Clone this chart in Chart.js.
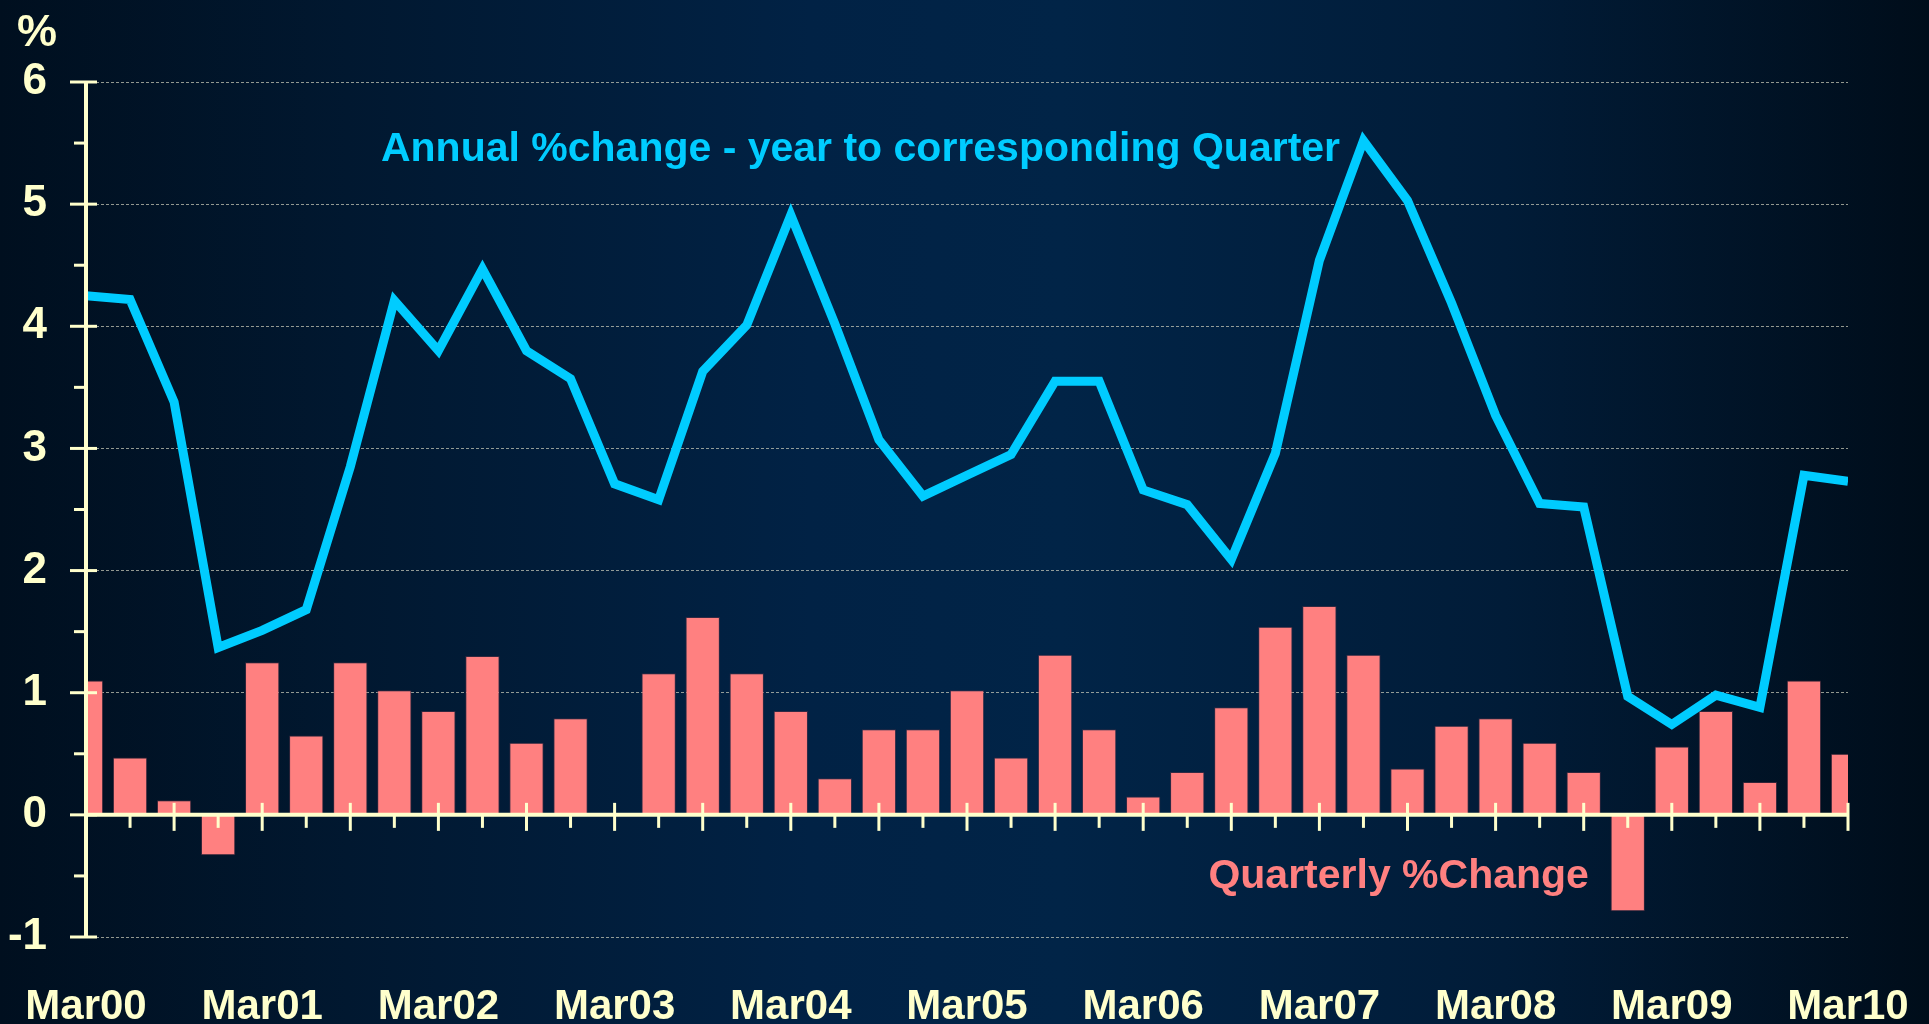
<!DOCTYPE html>
<html>
<head>
<meta charset="utf-8">
<title>Annual and quarterly % change</title>
<script src="https://cdn.jsdelivr.net/npm/chart.js@4.4.1/dist/chart.umd.min.js"></script>
<style>
    html, body { margin: 0; padding: 0; }
    body {
        width: 1929px;
        height: 1024px;
        overflow: hidden;
        background: linear-gradient(to right, #000f1f 0%, #011830 18%, #012245 42%, #012447 55%, #011c38 78%, #000d1a 100%);
    }
    canvas { display: block; }
</style>
</head>
<body>
<canvas id="chart" width="1929" height="1024"></canvas>
<script>
const quarters = [
    'Mar00', 'Jun00', 'Sep00', 'Dec00',
    'Mar01', 'Jun01', 'Sep01', 'Dec01',
    'Mar02', 'Jun02', 'Sep02', 'Dec02',
    'Mar03', 'Jun03', 'Sep03', 'Dec03',
    'Mar04', 'Jun04', 'Sep04', 'Dec04',
    'Mar05', 'Jun05', 'Sep05', 'Dec05',
    'Mar06', 'Jun06', 'Sep06', 'Dec06',
    'Mar07', 'Jun07', 'Sep07', 'Dec07',
    'Mar08', 'Jun08', 'Sep08', 'Dec08',
    'Mar09', 'Jun09', 'Sep09', 'Dec09',
    'Mar10',
];

// annual % change, year to corresponding quarter
const annualChange = [
    4.25, 4.22, 3.38, 1.37, 1.51, 1.68, 2.85, 4.21, 3.80, 4.47,
    3.80, 3.57, 2.71, 2.58, 3.63, 4.01, 4.91, 4.02, 3.07, 2.61,
    2.78, 2.95, 3.55, 3.55, 2.66, 2.54, 2.09, 2.96, 4.54, 5.52,
    5.03, 4.19, 3.27, 2.55, 2.52, 0.97, 0.74, 0.98, 0.88, 2.78,
    2.73,
];

// quarterly % change
const quarterlyChange = [
    1.10, 0.47, 0.12, -0.33, 1.25, 0.65, 1.25, 1.02, 0.85, 1.30,
    0.59, 0.79, 0.00, 1.16, 1.62, 1.16, 0.85, 0.30, 0.70, 0.70,
    1.02, 0.47, 1.31, 0.70, 0.15, 0.35, 0.88, 1.54, 1.71, 1.31,
    0.38, 0.73, 0.79, 0.59, 0.35, -0.79, 0.56, 0.85, 0.27, 1.10,
    0.50,
];

const yMin = -1;
const yMax = 6;

const palette = {
    cream: '#FFFFCC',
    cyan: '#00CCFF',
    salmon: '#FF8080',
    grid: 'rgba(210, 210, 190, 0.7)',
};

const fontFamily = '"Liberation Sans", Arial, Helvetica, sans-serif';

// axis lines at zero / left edge, tick marks and the two series captions
const axesPlugin = {
    id: 'axesOverlay',
    afterDatasetsDraw(chart) {
        const { ctx, chartArea, scales } = chart;
        const x = scales.x;
        const y = scales.y;
        const left = chartArea.left;
        const zero = y.getPixelForValue(0);

        const line = (x1, y1, x2, y2) => {
            ctx.beginPath();
            ctx.moveTo(x1, y1);
            ctx.lineTo(x2, y2);
            ctx.stroke();
        };

        ctx.save();
        ctx.strokeStyle = palette.cream;
        ctx.lineCap = 'butt';

        ctx.lineWidth = 4;
        line(left, chartArea.top, left, chartArea.bottom);
        line(left, zero, chartArea.right, zero);

        ctx.lineWidth = 3;
        for (let v = yMin; v <= yMax; v += 0.5) {
            const py = y.getPixelForValue(v);
            if (Number.isInteger(v)) {
                line(left - 16, py, left + 11, py);
            } else {
                line(left - 12, py, left, py);
            }
        }

        quarters.forEach((_, i) => {
            const px = x.getPixelForValue(i);
            if (i % 2 === 0) {
                line(px, zero - 12, px, zero + 16);
            } else {
                line(px, zero, px, zero + 13);
            }
        });

        const width = chartArea.right - chartArea.left;
        ctx.textBaseline = 'alphabetic';
        ctx.textAlign = 'left';

        ctx.font = `bold 41px ${fontFamily}`;
        ctx.fillStyle = palette.cyan;
        ctx.fillText('Annual %change - year to corresponding Quarter', left + width * 0.1674, y.getPixelForValue(5.35));

        ctx.fillStyle = palette.salmon;
        ctx.fillText('Quarterly %Change', left + width * 0.637, y.getPixelForValue(-0.6));

        ctx.font = `bold 45px ${fontFamily}`;
        ctx.fillStyle = palette.cream;
        ctx.fillText('%', 17, 46);

        ctx.restore();
    },
};

new Chart(document.getElementById('chart'), {
    type: 'bar',
    data: {
        labels: quarters,
        datasets: [
            {
                type: 'line',
                label: 'Annual % change',
                data: annualChange,
                borderColor: palette.cyan,
                borderWidth: 9,
                borderJoinStyle: 'miter',
                borderCapStyle: 'butt',
                pointRadius: 0,
                tension: 0,
                fill: false,
                clip: 0,
                order: 0,
            },
            {
                type: 'bar',
                label: 'Quarterly % change',
                data: quarterlyChange,
                backgroundColor: palette.salmon,
                borderColor: 'rgba(90, 50, 70, 0.55)',
                borderWidth: 1,
                barPercentage: 1,
                categoryPercentage: 0.78,
                clip: 0,
                order: 1,
            },
        ],
    },
    options: {
        responsive: false,
        devicePixelRatio: 1,
        animation: false,
        layout: {
            padding: { top: 82, right: 81, bottom: 0, left: 0 },
        },
        plugins: {
            legend: { display: false },
            tooltip: { enabled: false },
            title: { display: false },
        },
        scales: {
            x: {
                offset: false,
                // invisible tick marks only push the labels down
                grid: {
                    display: true,
                    drawOnChartArea: false,
                    drawTicks: true,
                    tickLength: 42,
                    tickColor: 'rgba(0, 0, 0, 0)',
                },
                border: { display: false },
                afterFit(scale) {
                    scale.height = 87;
                },
                ticks: {
                    autoSkip: false,
                    maxRotation: 0,
                    minRotation: 0,
                    padding: 3,
                    color: palette.cream,
                    font: { family: fontFamily, size: 42, weight: 'bold' },
                    callback: (value, index) => (index % 4 === 0 ? quarters[index] : ''),
                },
            },
            y: {
                min: yMin,
                max: yMax,
                afterFit(scale) {
                    scale.width = 86;
                },
                grid: {
                    color: palette.grid,
                    lineWidth: 1,
                    drawTicks: false,
                },
                border: { display: false, dash: [3, 2] },
                ticks: {
                    stepSize: 1,
                    padding: 39,
                    color: palette.cream,
                    font: { family: fontFamily, size: 44, weight: 'bold' },
                },
            },
        },
    },
    plugins: [axesPlugin],
});
</script>
</body>
</html>
